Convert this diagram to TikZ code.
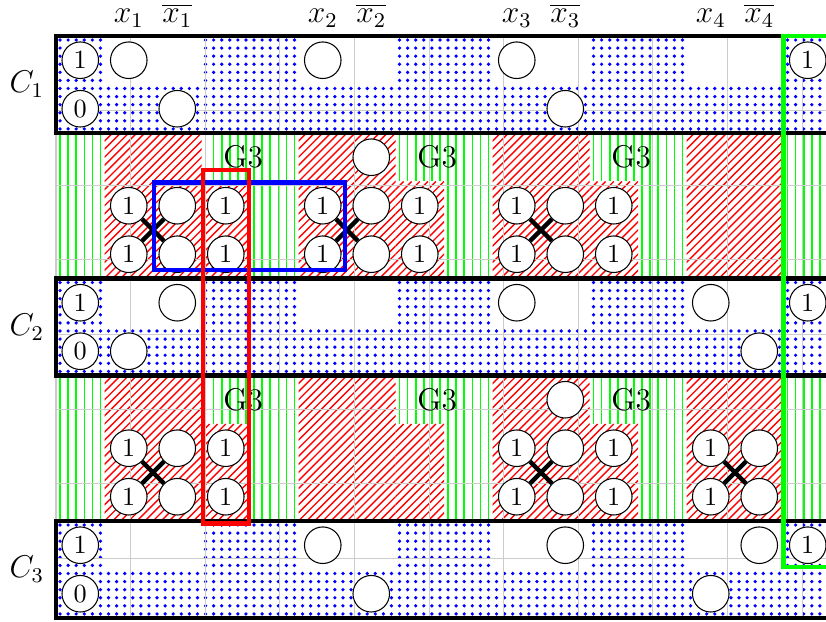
\documentclass[tikz,border=0pt]{standalone}
\begin{document}
\newcommand\dotrect[3]{%
  \pgfmathtruncatemacro\mynx{6*(#2-(#1))-1}%
  \foreach \a in {0,...,\mynx}{\foreach \b in {0,...,5}{%
    \fill[blue] ({#1+\a/6+1/12},{-(#3)-\b/6-1/12}) circle[radius=0.7pt];}}}
\newcommand\greenrect[4]{%
  \pgfmathtruncatemacro\mynl{6*(#3-(#1))-1}%
  \foreach \a in {0,...,\mynl}{%
    \draw[green,line width=0.6pt] ({#1+\a/6+1/12},{-(#2)}) -- ({#1+\a/6+1/12},{-(#4)});}}
\newcommand\redrect[4]{%
  \begin{scope}
  \clip (#1,{-(#2)}) rectangle (#3,{-(#4)});
  \pgfmathtruncatemacro\mynr{6*(#3-(#1)+#4-(#2))}%
  \foreach \a in {0,...,\mynr}{%
    \draw[red,line width=0.5pt] ({#1-(#4-(#2))+\a/6},{-(#4)}) -- ++({#4-(#2)},{#4-(#2)});}
  \end{scope}}
\begin{tikzpicture}[x=0.65cm,y=0.65cm,
  cir/.style={circle,draw=black,line width=0.4pt,fill=white,minimum size=0.49cm,inner sep=0pt,font=\normalsize},
  gridline/.style={black!20,line width=0.4pt},
  border/.style={line width=1.7pt,black},
  cross/.style={line width=1.7pt,black},
  hl/.style={line width=1.6pt},
  lab/.style={font=\large,anchor=base},
  glab/.style={font=\large}]
\useasboundingbox (-1.155,-12.082) rectangle (15.876,0.742);
\clip (-1.155,-12.082) rectangle (15.876,0.742);

% clause row backgrounds
\foreach \r in {0,5,10}{
  \dotrect{0}{1}{\r}
  \dotrect{3}{5}{\r}
  \dotrect{7}{9}{\r}
  \dotrect{11}{13}{\r}
  \dotrect{15}{16}{\r}
  \dotrect{0}{16}{\r+1}
}
% gadget row backgrounds
\foreach \g in {2,7}{
  \greenrect{0}{\g}{1}{\g+3}
  \foreach \k in {1,5,9}{
    \redrect{\k}{\g}{\k+2}{\g+3}
    \greenrect{\k+2}{\g}{\k+4}{\g+1}
    \redrect{\k+2}{\g+1}{\k+3}{\g+3}
    \greenrect{\k+3}{\g+1}{\k+4}{\g+3}
  }
  \redrect{13}{\g}{15}{\g+3}
  \greenrect{15}{\g}{16}{\g+3}
}
% grid
\draw[gridline] (0,-12) grid (17,0);

% column labels
\node[lab] (lx1) at (1.5,0.27) {$x_1$};
\node[lab] (lnx1) at (2.5,0.27) {$\overline{x_1}$};
\node[lab] (lx2) at (5.5,0.27) {$x_2$};
\node[lab] (lnx2) at (6.5,0.27) {$\overline{x_2}$};
\node[lab] (lx3) at (9.5,0.27) {$x_3$};
\node[lab] (lnx3) at (10.5,0.27) {$\overline{x_3}$};
\node[lab] (lx4) at (13.5,0.27) {$x_4$};
\node[lab] (lnx4) at (14.5,0.27) {$\overline{x_4}$};

% clause labels
\node[font=\large] (c1) at (-0.6,-1) {$C_1$};
\node[font=\large] (c2) at (-0.6,-6) {$C_2$};
\node[font=\large] (c3) at (-0.6,-11) {$C_3$};

% G3 labels
\foreach \g/\n in {2/a,7/b}{
  \node[glab] (g3\n1) at (3.86,-\g-0.5) {G3};
  \node[glab] (g3\n2) at (7.86,-\g-0.5) {G3};
  \node[glab] (g3\n3) at (11.86,-\g-0.5) {G3};
}

% clause C1 circles
\node[cir] (p1a) at (0.5,-0.5) {1};
\node[cir] (p1b) at (0.5,-1.5) {0};
\node[cir] (p1c) at (1.5,-0.5) {};
\node[cir] (p1d) at (5.5,-0.5) {};
\node[cir] (p1e) at (9.5,-0.5) {};
\node[cir] (p1f) at (15.5,-0.5) {1};
\node[cir] (p1g) at (2.5,-1.5) {};
\node[cir] (p1h) at (10.5,-1.5) {};
% clause C2 circles
\node[cir] (p2a) at (0.5,-5.5) {1};
\node[cir] (p2b) at (0.5,-6.5) {0};
\node[cir] (p2c) at (2.5,-5.5) {};
\node[cir] (p2d) at (9.5,-5.5) {};
\node[cir] (p2e) at (13.5,-5.5) {};
\node[cir] (p2f) at (15.5,-5.5) {1};
\node[cir] (p2g) at (1.5,-6.5) {};
\node[cir] (p2h) at (14.5,-6.5) {};
% clause C3 circles
\node[cir] (p3a) at (0.5,-10.5) {1};
\node[cir] (p3b) at (0.5,-11.5) {0};
\node[cir] (p3c) at (5.5,-10.5) {};
\node[cir] (p3d) at (10.5,-10.5) {};
\node[cir] (p3e) at (14.5,-10.5) {};
\node[cir] (p3f) at (15.5,-10.5) {1};
\node[cir] (p3g) at (6.5,-11.5) {};
\node[cir] (p3h) at (13.5,-11.5) {};

% gadget 1 (rows 2-4)
\node[cir] (a0tl) at (1.5,-3.5) {1};
\node[cir] (a0tr) at (2.5,-3.5) {};
\node[cir] (a0te) at (3.5,-3.5) {1};
\node[cir] (a0bl) at (1.5,-4.5) {1};
\node[cir] (a0br) at (2.5,-4.5) {};
\node[cir] (a0be) at (3.5,-4.5) {1};
\node[cir] (a1top) at (6.5,-2.5) {};
\node[cir] (a1tl) at (5.5,-3.5) {1};
\node[cir] (a1tr) at (6.5,-3.5) {};
\node[cir] (a1te) at (7.5,-3.5) {1};
\node[cir] (a1bl) at (5.5,-4.5) {1};
\node[cir] (a1br) at (6.5,-4.5) {};
\node[cir] (a1be) at (7.5,-4.5) {1};
\node[cir] (a2tl) at (9.5,-3.5) {1};
\node[cir] (a2tr) at (10.5,-3.5) {};
\node[cir] (a2te) at (11.5,-3.5) {1};
\node[cir] (a2bl) at (9.5,-4.5) {1};
\node[cir] (a2br) at (10.5,-4.5) {};
\node[cir] (a2be) at (11.5,-4.5) {1};

% gadget 2 (rows 7-9)
\node[cir] (b0tl) at (1.5,-8.5) {1};
\node[cir] (b0tr) at (2.5,-8.5) {};
\node[cir] (b0te) at (3.5,-8.5) {1};
\node[cir] (b0bl) at (1.5,-9.5) {1};
\node[cir] (b0br) at (2.5,-9.5) {};
\node[cir] (b0be) at (3.5,-9.5) {1};
\node[cir] (b2top) at (10.5,-7.5) {};
\node[cir] (b2tl) at (9.5,-8.5) {1};
\node[cir] (b2tr) at (10.5,-8.5) {};
\node[cir] (b2te) at (11.5,-8.5) {1};
\node[cir] (b2bl) at (9.5,-9.5) {1};
\node[cir] (b2br) at (10.5,-9.5) {};
\node[cir] (b2be) at (11.5,-9.5) {1};
\node[cir] (b3tl) at (13.5,-8.5) {1};
\node[cir] (b3tr) at (14.5,-8.5) {};
\node[cir] (b3bl) at (13.5,-9.5) {1};
\node[cir] (b3br) at (14.5,-9.5) {};

% crossings
\foreach \p in {a0,a1,a2,b0,b2,b3}{
  \draw[cross] (\p tl) -- (\p br);
  \draw[cross] (\p tr) -- (\p bl);
}

% clause borders
\foreach \r in {0,5,10}{
  \draw[border] (17,-\r) -- (0,-\r) -- (0,-\r-2) -- (17,-\r-2);
}

% highlight boxes
\draw[hl,blue] (2.02,-3.02) rectangle (5.96,-4.82);
\draw[hl,red] (3.03,-2.76) rectangle (3.98,-10.05);
\draw[hl,green] (15,0) rectangle (17,-10.95);
\end{tikzpicture}
\end{document}
